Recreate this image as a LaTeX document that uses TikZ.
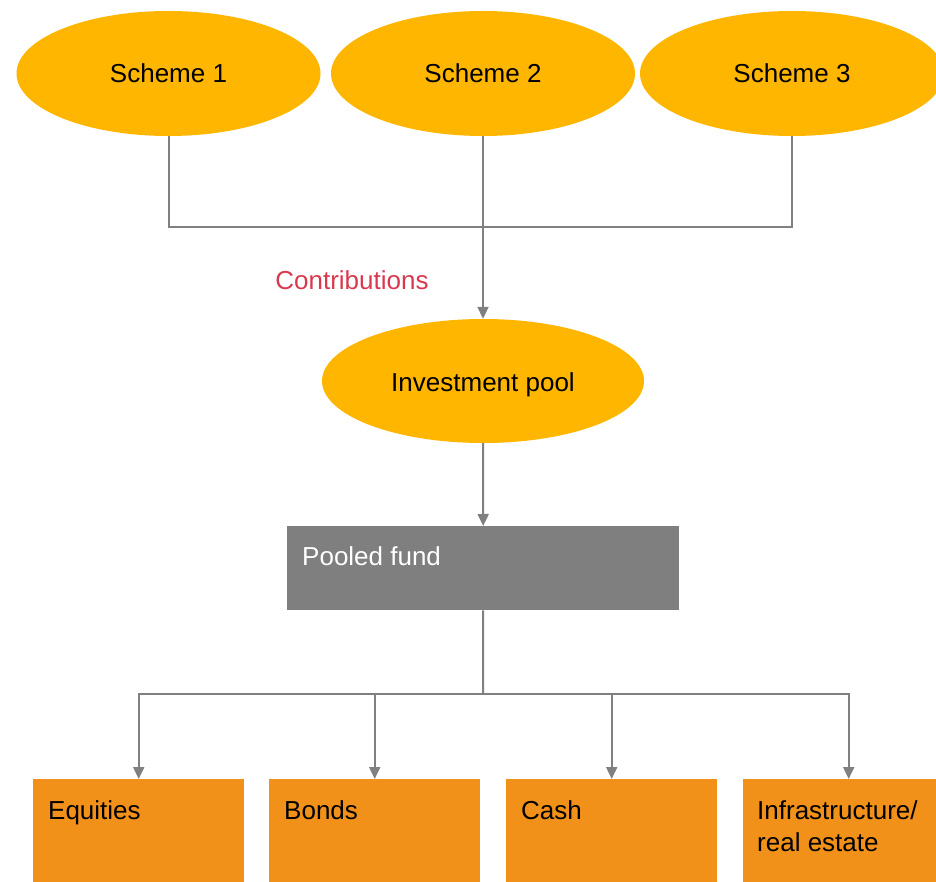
\documentclass[tikz,border=0pt]{standalone}
\usepackage{fontspec}
\setmainfont{Liberation Sans}
\usetikzlibrary{shapes.geometric,arrows.meta}
\definecolor{schemeyel}{HTML}{FFB600}
\definecolor{boxorange}{HTML}{F29119}
\definecolor{fundgray}{HTML}{7F7F7F}
\definecolor{linegray}{HTML}{808080}
\definecolor{contribred}{HTML}{D9394F}
\tikzset{
  oval/.style={ellipse, fill=schemeyel, draw=none, inner sep=0pt, minimum width=304pt, minimum height=125pt},
  assetbox/.style={rectangle, fill=boxorange, draw=none, inner sep=0pt, minimum width=211pt, minimum height=104pt, anchor=north west},
  fundbox/.style={rectangle, fill=fundgray, draw=none, inner sep=0pt, minimum width=392pt, minimum height=84pt, anchor=north west},
  txt/.style={inner sep=0pt, anchor=base west, font=\fontsize{26pt}{32pt}\selectfont},
  ctxt/.style={inner sep=0pt, anchor=base, font=\fontsize{26pt}{32pt}\selectfont},
  conn/.style={draw=linegray, line width=2pt},
  arr/.style={conn, -{Triangle[length=12pt,width=11pt]}},
}
\begin{document}
\begin{tikzpicture}[x=1pt,y=-1pt]
\useasboundingbox (0,0) rectangle (936,882);
\clip (0,0) rectangle (936,882);
% top ellipses
\node[oval] (s1) at (168.5,73.5) {};
\node[oval] (s2) at (483,73.5) {};
\node[oval] (s3) at (792,73.5) {};
\node[ctxt] (s1t) at (168.5,83) {Scheme 1};
\node[ctxt] (s2t) at (483,83) {Scheme 2};
\node[ctxt] (s3t) at (792,83) {Scheme 3};
% pool
\node[oval, minimum width=322pt, minimum height=124pt] (pool) at (483,381) {};
\node[ctxt] (poolt) at (483,391) {Investment pool};
\node[ctxt, text=contribred] (contrib) at (352,290) {Contributions};
% pooled fund
\node[fundbox] (pf) at (287,526) {};
\node[txt, text=white] (pft) at (302,565) {Pooled fund};
% assets
\node[assetbox] (eq) at (33,779) {};
\node[assetbox] (bo) at (269,779) {};
\node[assetbox] (ca) at (506,779) {};
\node[assetbox] (in) at (743,779) {};
\node[txt] (eqt) at (48,819) {Equities};
\node[txt] (bot) at (284,819) {Bonds};
\node[txt] (cat) at (521,819) {Cash};
\node[txt] (int1) at (757,819) {Infrastructure/};
\node[txt] (int2) at (757,851) {real estate};
% connectors
\coordinate (j) at (483,227);
\coordinate (k) at (483,694);
\draw[conn] (s1.south) |- (j);
\draw[conn] (s3.south) |- (j);
\draw[arr] (s2.south) -- (pool.north);
\draw[arr] (pool.south) -- (pf.north);
\draw[conn] (pf.south) -- (k);
\draw[arr] (k) -| (eq.north);
\draw[arr] (k) -| (bo.north);
\draw[arr] (k) -| (ca.north);
\draw[arr] (k) -| (in.north);
\end{tikzpicture}
\end{document}
